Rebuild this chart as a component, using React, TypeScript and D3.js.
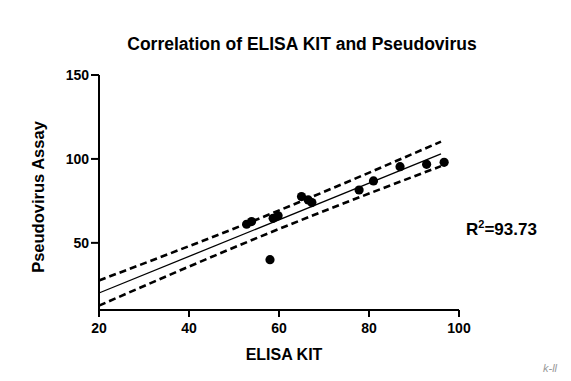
import React from "react";
import * as d3 from "d3";

const elisa = [52.8, 53.9, 58.7, 59.8, 58.0, 65.0, 66.5, 67.3, 77.8, 81.0, 86.9, 92.8, 96.7];
const pseudo = [61.1, 62.7, 64.6, 66.1, 40.0, 77.6, 75.6, 74.0, 81.5, 86.9, 95.4, 96.8, 98.0];
const fitSlope = 1.091;
const fitIntercept = -1.7;
const fitRange = [20, 96];
const bandX = [20, 58, 96];
const bandUpper = [27.6, 67.1, 110.3];
const bandLower = [12.6, 56.1, 95.7];
const xTicks = [20, 40, 60, 80, 100];
const yTicks = [50, 100, 150];
const title = "Correlation of ELISA KIT and Pseudovirus";
const xLabel = "ELISA KIT";
const yLabel = "Pseudovirus Assay";
const r2Label = "93.73";

const W = 571;
const H = 381;
const FONT = "Arial, 'Liberation Sans', Helvetica, sans-serif";

export default function App() {
  const x = d3.scaleLinear().domain([20, 100]).range([99, 459]);
  const y = d3.scaleLinear().domain([10, 150]).range([310, 75]);

  const fitLine = d3
    .line<number>()
    .x((d) => x(d))
    .y((d) => y(fitSlope * d + fitIntercept));

  const band = (vals: number[]) =>
    d3
      .line<number>()
      .x((_, i) => x(bandX[i]))
      .y((d) => y(d))
      .curve(d3.curveNatural)(vals) || "";

  const x0 = x.range()[0];
  const y0 = y.range()[0];

  return (
    <svg
      width={W}
      height={H}
      style={{ position: "absolute", left: 0, top: 0, background: "#fff" }}
      fontFamily={FONT}
    >
      <rect width={W} height={H} fill="#fff" />
      <text x={302} y={50} textAnchor="middle" fontWeight="bold" fontSize={17.5} fill="#000">
        {title}
      </text>

      {/* bands & fit */}
      <path d={band(bandUpper)} fill="none" stroke="#000" strokeWidth={2.6} strokeDasharray="7,4" />
      <path d={band(bandLower)} fill="none" stroke="#000" strokeWidth={2.6} strokeDasharray="7,4" />
      <path d={fitLine(fitRange) || ""} fill="none" stroke="#000" strokeWidth={1.3} />

      {/* points */}
      {elisa.map((v, i) => (
        <circle key={i} cx={x(v)} cy={y(pseudo[i])} r={4.6} fill="#000" />
      ))}

      {/* axes */}
      <line x1={x0} x2={x0} y1={y(150)} y2={y0 + 1} stroke="#000" strokeWidth={2} />
      <line x1={x0 - 1} x2={x(100)} y1={y0} y2={y0} stroke="#000" strokeWidth={2} />
      {yTicks.map((t) => (
        <g key={t}>
          <line x1={x0 - 8} x2={x0} y1={y(t)} y2={y(t)} stroke="#000" strokeWidth={2} />
          <text x={x0 - 10} y={y(t)} dy="0.35em" textAnchor="end" fontWeight="bold" fontSize={14} fill="#000">
            {t}
          </text>
        </g>
      ))}
      {xTicks.map((t) => (
        <g key={t}>
          <line x1={x(t)} x2={x(t)} y1={y0} y2={y0 + 7} stroke="#000" strokeWidth={2} />
          <text x={x(t)} y={333} textAnchor="middle" fontWeight="bold" fontSize={14} fill="#000">
            {t}
          </text>
        </g>
      ))}

      <text x={284} y={360} textAnchor="middle" fontWeight="bold" fontSize={16} fill="#000">
        {xLabel}
      </text>
      <text
        transform={`translate(44,197) rotate(-90)`}
        textAnchor="middle"
        fontWeight="bold"
        fontSize={16.5}
        fill="#000"
      >
        {yLabel}
      </text>

      <text x={466} y={235} fontWeight="bold" fontSize={17} fill="#000">
        R<tspan fontSize={11} dy={-7}>2</tspan>
        <tspan dy={7}>={r2Label}</tspan>
      </text>

      <text x={543} y={372} fontSize={11} fontStyle="italic" fill="#999">
        k-ll
      </text>
    </svg>
  );
}
